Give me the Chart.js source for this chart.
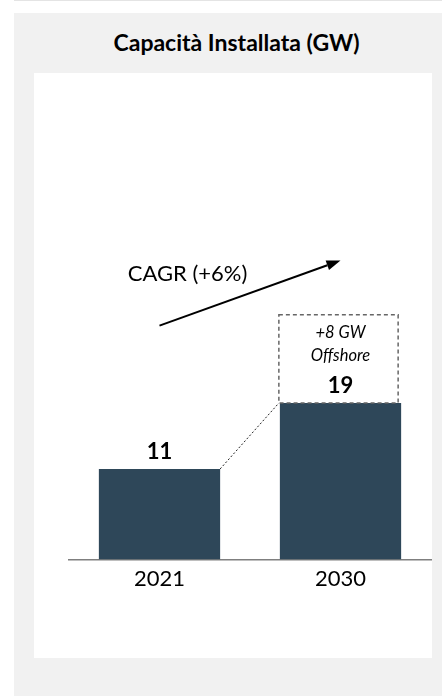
<!DOCTYPE html>
<html>
<head>
<meta charset="utf-8">
<script src="https://cdn.jsdelivr.net/npm/chart.js@4"></script>
<style>
  html, body { margin: 0; padding: 0; background: #ffffff; width: 442px; height: 696px; overflow: hidden; }
  #topline { position: absolute; left: 14px; top: 0; width: 428px; height: 1px; background: #e4e4e4; }
  #panel { position: absolute; left: 14px; top: 13px; width: 428px; height: 683px; background: #f1f1f1; }
  #title { position: absolute; left: 34px; top: 27px; width: 405px; text-align: center;
           font-family: Lato, "Open Sans", sans-serif; font-weight: bold; font-size: 23px; color: #000; line-height: 30px; }
  #box { position: absolute; left: 34px; top: 73px; width: 398px; height: 585px; background: #ffffff; }
  #box canvas { display: block; }
</style>
</head>
<body>
<div id="topline"></div>
<div id="panel"></div>
<div id="title">Capacità Installata (GW)</div>
<div id="box"><canvas id="c" width="398" height="585"></canvas></div>
<script>
// ---- data ----
const categories = ['2021', '2030'];
const capacityGW = [11, 19];
const offshoreNote = ['+8 GW', 'Offshore'];
const cagrLabel = 'CAGR (+6%)';

const FONT = 'Lato, "Open Sans", sans-serif';
const BAR_COLOR = '#2e4759';

const overlay = {
  id: 'overlay',
  afterDatasetsDraw(chart) {
    const { ctx, scales: { x, y } } = chart;
    const bars = chart.getDatasetMeta(0).data;
    const b0 = bars[0], b1 = bars[1];
    ctx.save();

    // dotted connector from top-right of first bar to top-left of second bar
    ctx.strokeStyle = '#222';
    ctx.lineWidth = 1;
    ctx.setLineDash([2, 2]);
    ctx.beginPath();
    ctx.moveTo(b0.x + b0.width / 2, b0.y);
    ctx.lineTo(b1.x - b1.width / 2 - 1, b1.y);
    ctx.stroke();

    // dashed box above second bar (offshore note)
    const boxTop = y.getPixelForValue(29.7);
    ctx.strokeStyle = '#666';
    ctx.lineWidth = 1.5;
    ctx.setLineDash([4, 3]);
    ctx.strokeRect(b1.x - b1.width / 2 - 1, boxTop, b1.width - 2, b1.y - boxTop);
    ctx.setLineDash([]);

    // value labels
    ctx.fillStyle = '#000';
    ctx.textAlign = 'center';
    ctx.textBaseline = 'middle';
    ctx.font = 'bold 22px ' + FONT;
    bars.forEach((b, i) => ctx.fillText(String(capacityGW[i]), b.x, b.y - 17));

    // offshore note
    ctx.font = 'italic 16.5px ' + FONT;
    ctx.fillText(offshoreNote[0], b1.x, y.getPixelForValue(27.5));
    ctx.fillText(offshoreNote[1], b1.x, y.getPixelForValue(24.7));

    // CAGR label
    ctx.font = '22px ' + FONT;
    ctx.fillText(cagrLabel, x.getPixelForValue(0.155), y.getPixelForValue(34.7));

    // CAGR arrow
    const x1 = x.getPixelForValue(0), y1 = y.getPixelForValue(28.4);
    const x2 = x.getPixelForValue(1), y2 = y.getPixelForValue(36.3);
    const ang = Math.atan2(y2 - y1, x2 - x1);
    const head = 14, half = 5;
    ctx.strokeStyle = '#000';
    ctx.lineWidth = 2;
    ctx.beginPath();
    ctx.moveTo(x1, y1);
    ctx.lineTo(x2 - head * Math.cos(ang), y2 - head * Math.sin(ang));
    ctx.stroke();
    ctx.fillStyle = '#000';
    ctx.beginPath();
    ctx.moveTo(x2, y2);
    ctx.lineTo(x2 - head * Math.cos(ang) + half * Math.sin(ang), y2 - head * Math.sin(ang) - half * Math.cos(ang));
    ctx.lineTo(x2 - head * Math.cos(ang) - half * Math.sin(ang), y2 - head * Math.sin(ang) + half * Math.cos(ang));
    ctx.closePath();
    ctx.fill();

    ctx.restore();
  }
};

new Chart(document.getElementById('c'), {
  type: 'bar',
  data: {
    labels: categories,
    datasets: [{
      data: capacityGW,
      backgroundColor: BAR_COLOR,
      borderWidth: 0,
      categoryPercentage: 1,
      barPercentage: 0.67
    }]
  },
  options: {
    responsive: false,
    animation: false,
    devicePixelRatio: 1,
    layout: { padding: { left: 35, right: 1, top: 157, bottom: 60 } },
    plugins: { legend: { display: false }, tooltip: { enabled: false }, title: { display: false } },
    scales: {
      x: {
        grid: { display: false, drawTicks: false },
        border: { display: true, color: '#7f7f7f', width: 1.5 },
        ticks: { color: '#000', font: { family: FONT, size: 22 }, padding: 6 }
      },
      y: { display: false, min: 0, max: 40 }
    }
  },
  plugins: [overlay]
});
</script>
</body>
</html>
